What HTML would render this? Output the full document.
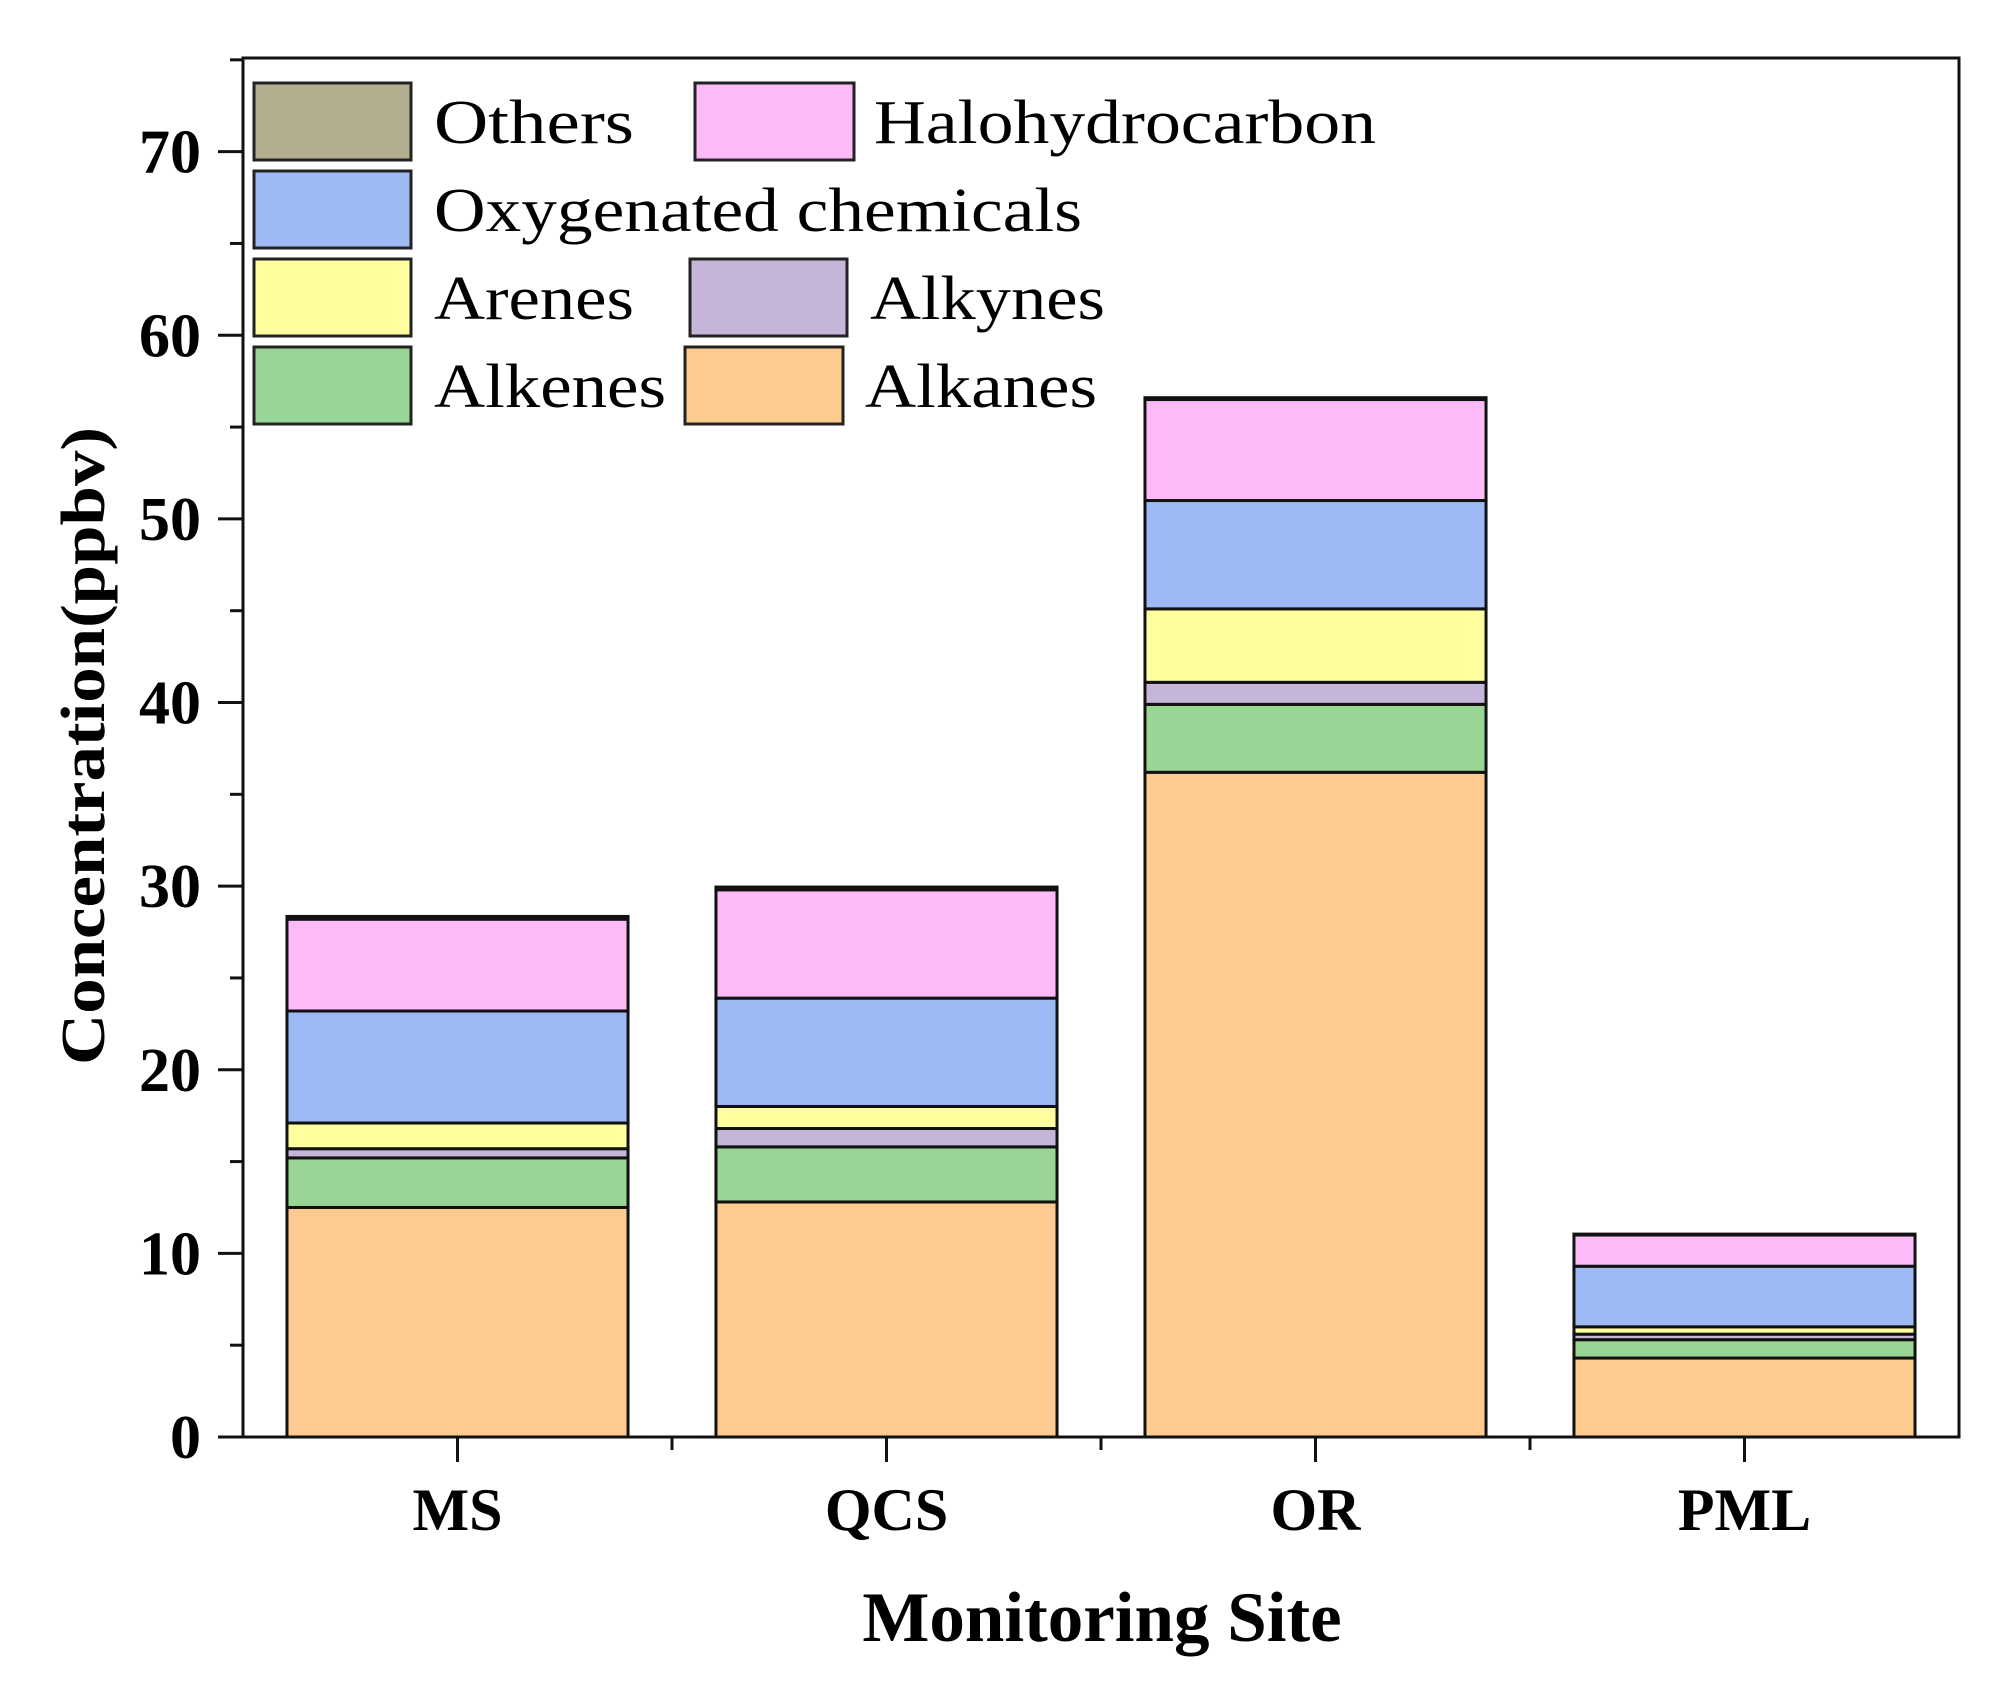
<!DOCTYPE html>
<html><head><meta charset="utf-8"><style>
html,body{margin:0;padding:0;background:#fff}
svg text{font-family:"Liberation Serif",serif}
</style></head><body>
<svg id="chart" width="2001" height="1681" viewBox="0 0 2001 1681" xmlns="http://www.w3.org/2000/svg">
<rect width="2001" height="1681" fill="#fff"/>
<g id="bars"></g>
<g id="axes"></g>
<g id="legend"></g>
</svg>
<script>
const categories = ["MS","QCS","OR","PML"];
const seriesNames = ["Alkanes","Alkenes","Alkynes","Arenes","Oxygenated chemicals","Halohydrocarbon","Others"];
const alkanes = [12.5, 12.8, 36.2, 4.3];
const alkenes = [2.7, 3.0, 3.7, 1.0];
const alkynes = [0.5, 1.0, 1.2, 0.3];
const arenes = [1.4, 1.2, 4.0, 0.4];
const oxygenated = [6.1, 5.9, 5.9, 3.3];
const halohydrocarbon = [5.0, 5.9, 5.5, 1.7];
const others = [0.15, 0.15, 0.1, 0.05];
const yTicks = [0,10,20,30,40,50,60,70];

const series = [alkanes, alkenes, alkynes, arenes, oxygenated, halohydrocarbon, others];
const colors = ["#fdca8f","#99d594","#c5b5d8","#fefe9f","#9dbaf4","#fdbaf8","#b3ae8f"];
const NS = "http://www.w3.org/2000/svg";
const L = 243, R = 1959, T = 58, B = 1437, YMAX = 75.1;
const y = v => B - v / YMAX * (B - T);
const band = (R - L) / categories.length;
const xc = i => L + band * (i + 0.5);
const bw = band * 0.795;
function mk(tag, attrs, parent, text) {
  const e = document.createElementNS(NS, tag);
  for (const k in attrs) e.setAttribute(k, attrs[k]);
  if (text !== undefined) e.textContent = text;
  parent.appendChild(e);
  return e;
}
const gb = document.getElementById('bars');
categories.forEach((c, i) => {
  let cum = 0;
  series.forEach((s, j) => {
    const v0 = cum, v1 = cum + s[i];
    cum = v1;
    const r = mk('rect', {x: xc(i) - bw / 2, y: y(v1), width: bw, height: y(v0) - y(v1), fill: colors[j], stroke: '#111', 'stroke-width': 3}, gb);
    
    
  });
});
const ga = document.getElementById('axes');
const frame = mk('rect', {x: L, y: T, width: R - L, height: B - T, fill: 'none', stroke: '#111', 'stroke-width': 3}, ga);


for (let v = 5; v < YMAX; v += 10) {
  mk('line', {x1: L - 13, x2: L, y1: y(v), y2: y(v), stroke: '#111', 'stroke-width': 3}, ga);
}
yTicks.forEach(v => {
  mk('line', {x1: L - 25, x2: L, y1: y(v), y2: y(v), stroke: '#111', 'stroke-width': 3}, ga);
  const t = mk('text', {x: L - 42, y: y(v) + 21, 'text-anchor': 'end', 'font-size': 62, 'font-weight': 'bold'}, ga, String(v));
  
  
});
categories.forEach((c, i) => {
  mk('line', {x1: xc(i), x2: xc(i), y1: B, y2: B + 25, stroke: '#111', 'stroke-width': 3}, ga);
  if (i > 0) mk('line', {x1: L + band * i, x2: L + band * i, y1: B, y2: B + 13, stroke: '#111', 'stroke-width': 3}, ga);
  const t = mk('text', {x: xc(i), y: 1530, 'text-anchor': 'middle', 'font-size': 60, 'font-weight': 'bold'}, ga, c);
  
  
});
const xt = mk('text', {x: 1102, y: 1641, 'text-anchor': 'middle', 'font-size': 71, 'font-weight': 'bold'}, ga, 'Monitoring Site');


const yt = mk('text', {x: 0, y: 0, 'text-anchor': 'middle', 'font-size': 62, 'font-weight': 'bold', transform: 'translate(104,746) rotate(-90)', textLength: 638, lengthAdjust: 'spacingAndGlyphs'}, ga, 'Concentration(ppbv)');



const gl = document.getElementById('legend');
const legendItems = [
  {n: 'Others', c: 6, bx: 254, bw: 157, tx: 434, tl: 200, row: 0},
  {n: 'Halohydrocarbon', c: 5, bx: 695, bw: 159, tx: 874, tl: 502, row: 0},
  {n: 'Oxygenated chemicals', c: 4, bx: 254, bw: 157, tx: 434, tl: 648, row: 1},
  {n: 'Arenes', c: 3, bx: 254, bw: 157, tx: 434, tl: 200, row: 2},
  {n: 'Alkynes', c: 2, bx: 690, bw: 157, tx: 870, tl: 235, row: 2},
  {n: 'Alkenes', c: 1, bx: 254, bw: 157, tx: 434, tl: 232, row: 3},
  {n: 'Alkanes', c: 0, bx: 685, bw: 158, tx: 865, tl: 232, row: 3}
];
legendItems.forEach(it => {
  const top = 83 + it.row * 88;
  const g = mk('g', {}, gl);
  
  
  mk('rect', {x: it.bx, y: top, width: it.bw, height: 77, fill: colors[it.c], stroke: '#222', 'stroke-width': 3}, g);
  mk('text', {x: it.tx, y: top + 60, 'font-size': 62, textLength: it.tl, lengthAdjust: 'spacingAndGlyphs'}, g, it.n);
});
</script>
</body></html>
